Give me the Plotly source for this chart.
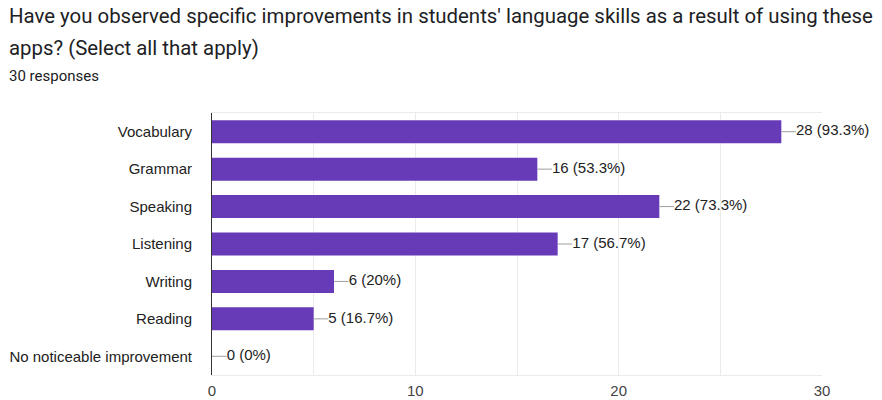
import plotly.graph_objects as go

categories = ["Vocabulary", "Grammar", "Speaking", "Listening", "Writing", "Reading", "No noticeable improvement"]
counts = [28, 16, 22, 17, 6, 5, 0]
total_responses = 30
title_line1 = "Have you observed specific improvements in students' language skills as a result of using these"
title_line2 = "apps? (Select all that apply)"
subtitle = "30 responses"
tick_values = [0, 5, 10, 15, 20, 25, 30]
tick_labels = ["0", "", "10", "", "20", "", "30"]

labels = [f"{c} ({round(c / total_responses * 100, 1):g}%)" for c in counts]

W, H = 882, 400
L, R, T, B = 212, 60, 113, 25
pw, ph = W - L - R, H - T - B

def px_x(x):
    return (x - L) / pw

def px_y(y):
    return (H - B - y) / ph

fig = go.Figure()
fig.add_trace(go.Bar(
    x=counts, y=categories, orientation="h",
    marker=dict(color="#673ab7", line=dict(width=0)),
    hoverinfo="skip",
))

lead = 0.72
lx, ly = [], []
for c, cat in zip(counts, categories):
    lx += [c, c + lead, None]
    ly += [cat, cat, None]
fig.add_trace(go.Scatter(x=lx, y=ly, mode="lines", line=dict(color="#9e9e9e", width=1),
                         hoverinfo="skip", cliponaxis=False))
fig.add_trace(go.Scatter(
    x=[c + lead for c in counts], y=categories, mode="text", text=labels,
    textposition="middle right", cliponaxis=False,
    textfont=dict(family="Liberation Sans, Arial", size=15, color="#222222"),
    hoverinfo="skip",
))

fig.update_layout(
    width=W, height=H, margin=dict(l=L, r=R, t=T, b=B, autoexpand=False),
    paper_bgcolor="white", plot_bgcolor="white", showlegend=False,
    bargap=0.385,
    xaxis=dict(range=[0, 30], tickvals=tick_values, ticktext=tick_labels,
               showgrid=True, gridcolor="#ebebeb", gridwidth=1, zeroline=False,
               showline=True, linecolor="#ebebeb", mirror=True, ticks="",
               ticklabelstandoff=2, automargin=False,
               tickfont=dict(family="Liberation Sans, Arial", size=15, color="#444444"),
               fixedrange=True),
    yaxis=dict(categoryorder="array", categoryarray=categories, autorange="reversed",
               showgrid=False, zeroline=False, showline=True, linecolor="#333333",
               linewidth=1, ticks="", ticklabelstandoff=16, automargin=False,
               tickfont=dict(family="Liberation Sans, Arial", size=15, color="#222222"),
               fixedrange=True),
    font=dict(family="Roboto"),
)

fig.add_annotation(text=title_line1, xref="paper", yref="paper", x=px_x(7), y=px_y(16),
                   xanchor="left", yanchor="middle", showarrow=False,
                   font=dict(family="Roboto", size=20.4, color="#202124"))
fig.add_annotation(text=title_line2, xref="paper", yref="paper", x=px_x(7), y=px_y(48),
                   xanchor="left", yanchor="middle", showarrow=False,
                   font=dict(family="Roboto", size=20.4, color="#202124"))
fig.add_annotation(text=subtitle, xref="paper", yref="paper", x=px_x(7), y=px_y(76),
                   xanchor="left", yanchor="middle", showarrow=False,
                   font=dict(family="Roboto", size=15, color="#202124"))

fig.write_html("out.html")
